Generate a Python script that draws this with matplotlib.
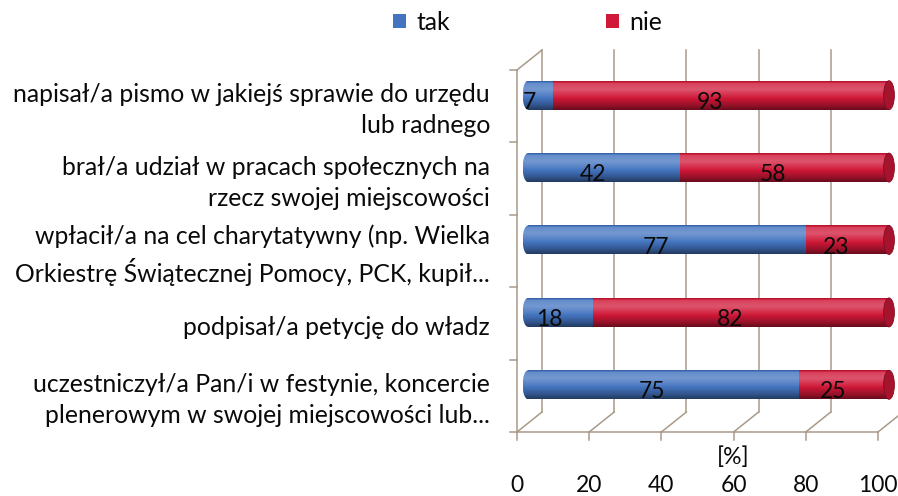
import matplotlib
matplotlib.use("Agg")
import matplotlib.pyplot as plt
import matplotlib.transforms as mtransforms
from matplotlib.patches import Ellipse, Patch
import numpy as np

plt.rcParams['font.family'] = ['Lato', 'DejaVu Sans']

kategorie = [
    "napisał/a pismo w jakiejś sprawie do urzędu\nlub radnego",
    "brał/a udział w pracach społecznych na\nrzecz swojej miejscowości",
    "wpłacił/a na cel charytatywny (np. Wielka\nOrkiestrę Świątecznej Pomocy, PCK, kupił...",
    "podpisał/a petycję do władz",
    "uczestniczył/a Pan/i w festynie, koncercie\nplenerowym w swojej miejscowości lub...",
]
tak = [7, 42, 77, 18, 75]
nie = [93, 58, 23, 82, 25]
ticks = [0, 20, 40, 60, 80, 100]

BLUE = np.array([68, 116, 192]) / 255
RED = np.array([208, 24, 56]) / 255
LINE = '#a89a88'
INK = '#0a0a0a'
FS = 17.8
FS_NUM = 16.5

W, H = 898, 496
fig = plt.figure(figsize=(W / 100, H / 100), dpi=100)
# front plane of the 3d box: x 0..100 -> px 517..878, rows -> px 70..432
ax = fig.add_axes([517 / W, (H - 432) / H, 361 / W, 362 / H])
ax.set_xlim(0, 100)
ax.set_ylim(4.5, -0.5)
ax.axis('off')


def shift(dx, dy):
    # offset in pixels (dy > 0 = up) for the depth of the 3d box
    return ax.transData + mtransforms.ScaledTranslation(dx / 100, dy / 100, fig.dpi_scale_trans)


DEPTH = (25, 20)
BAR_OFF = (11, 11)
ident = mtransforms.IdentityTransform()


def depth_line(x, y, **kw):
    x0, y0 = ax.transData.transform((x, y))
    ax.plot([x0, x0 + DEPTH[0]], [y0, y0 + DEPTH[1]], transform=ident,
            color=LINE, lw=1.1, clip_on=False, **kw)


# back wall gridlines
for t in ticks:
    ax.plot([t, t], [4.5, -0.5], transform=shift(*DEPTH), color=LINE, lw=1.1, clip_on=False, zorder=1)

# floor
ax.plot([0, 100], [4.5, 4.5], color=LINE, lw=1.1, clip_on=False, zorder=1)
for t in ticks:
    depth_line(t, 4.5, zorder=1)
    x0, y0 = ax.transData.transform((t, 4.5))
    ax.plot([x0, x0], [y0, y0 - 8], transform=ident, color=LINE, lw=1.1, clip_on=False)
    ax.text(t, 4.5, str(t), transform=shift(0, -54), ha='center', va='center',
            fontsize=FS_NUM, color=INK)

# left wall
ax.plot([0, 0], [-0.5, 4.5], color=LINE, lw=1.1, clip_on=False, zorder=1)
depth_line(0, -0.5, zorder=1)
for k in range(6):
    yk = k - 0.5
    x0, y0 = ax.transData.transform((0, yk))
    ax.plot([x0 - 7, x0], [y0, y0], transform=ident, color=LINE, lw=1.1, clip_on=False)


def cylinder_shade(base, n=64):
    t = np.linspace(0, 1, n)
    f = np.interp(t, [0, 0.07, 0.28, 0.55, 0.82, 1.0], [-0.2, 0.18, 0.26, 0.04, -0.25, -0.5])
    cols = []
    for v in f:
        if v >= 0:
            cols.append(base + (1 - base) * v)
        else:
            cols.append(base * (1 + v))
    return np.array(cols).reshape(n, 1, 3)


bh = 0.4
cap_w = 3.0
tr_bar = shift(*BAR_OFF)
grad_b = cylinder_shade(BLUE)
grad_r = cylinder_shade(RED)

for i in range(len(kategorie)):
    y0, y1 = i + bh / 2, i - bh / 2
    # rounded left end of the cylinder
    left = Ellipse((0, i), cap_w, bh, transform=tr_bar, facecolor='none', edgecolor='none')
    ax.add_patch(left)
    im = ax.imshow(grad_b, extent=(-cap_w / 2, cap_w / 2, y0, y1), transform=tr_bar,
                   aspect='auto', interpolation='bilinear', zorder=3)
    im.set_clip_path(left)
    for seg, start, width in ((grad_b, 0, tak[i]), (grad_r, tak[i], nie[i])):
        body = ax.imshow(seg, extent=(start, start + width, y0, y1), transform=tr_bar,
                         aspect='auto', interpolation='bilinear', zorder=4)
        body.set_clip_on(False)
    # end face
    ax.add_patch(Ellipse((tak[i] + nie[i], i), cap_w, bh, transform=tr_bar,
                         facecolor=RED * 0.8, edgecolor=RED * 0.62, lw=0.6, zorder=5,
                         clip_on=False))

    ax.text(tak[i] / 2, i, str(tak[i]), transform=shift(0, 4), ha='center', va='center',
            fontsize=FS_NUM, color=INK, zorder=6)
    ax.text(tak[i] + nie[i] / 2, i, str(nie[i]), transform=shift(0, 4), ha='center', va='center',
            fontsize=FS_NUM, color=INK, zorder=6)

    ax.text(0, i, kategorie[i], transform=shift(-27, -4), ha='right', va='center',
            fontsize=FS, linespacing=1.42, color=INK)

ax.set_xlim(0, 100)
ax.set_ylim(4.5, -0.5)

fig.text(733 / W, 1 - 457 / H, "[%]", ha='center', va='center', fontsize=FS_NUM, color=INK)

handles = [Patch(facecolor=BLUE, label='tak'), Patch(facecolor=RED, label='nie')]
fig.legend(handles=handles, ncol=2, loc='center', bbox_to_anchor=(528 / W, 1 - 22 / H),
           frameon=False, fontsize=FS, handlelength=0.5, handleheight=0.5,
           handletextpad=0.45, columnspacing=6.3, labelcolor=INK)

fig.savefig("out.png", dpi=100, facecolor='white')
